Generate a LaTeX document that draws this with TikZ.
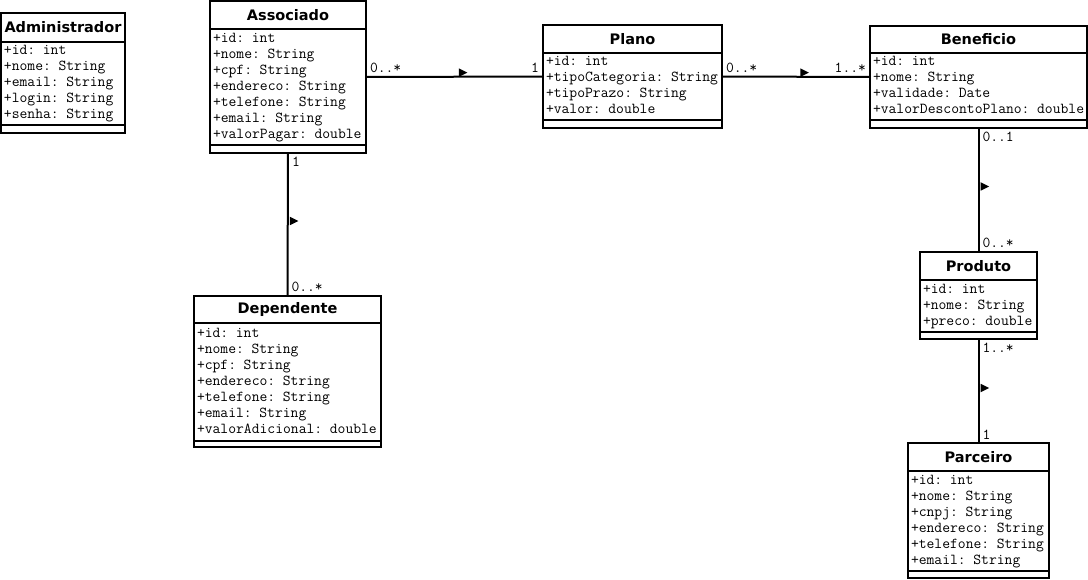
\documentclass[tikz,border=0pt]{standalone}
\usepackage{fontspec}
\setmainfont{DejaVu Sans}
\usetikzlibrary{positioning,fit,shapes.geometric}

\begin{document}
\begin{tikzpicture}[
    x=1pt, y=1pt,
    classhead/.style={draw=black, line width=2pt, outer sep=0pt, inner sep=0pt,
        minimum height=28pt, font=\bfseries\fontsize{14.5}{17}\selectfont},
    classattr/.style={draw=black, line width=2pt, outer sep=0pt, inner xsep=3pt,
        inner ysep=0pt, text width=#1, execute at begin node=\noindent,
        font=\ttfamily\fontsize{15.2}{16}\selectfont},
    classops/.style={draw=black, line width=2pt, outer sep=0pt, inner sep=0pt,
        minimum height=7pt},
    classbox/.style={inner sep=0pt, outer sep=0pt},
    edge/.style={line width=2pt, -},
    mult/.style={font=\ttfamily\fontsize{15.2}{16}\selectfont, inner sep=3pt},
    dirmark/.style={fill=black, isosceles triangle, isosceles triangle stretches,
        minimum width=8.5pt, minimum height=8.5pt, inner sep=0pt}
]
    \useasboundingbox (0,0) rectangle (1088,-580);

    % Administrador
    \node[classhead, minimum width=124pt, minimum height=29pt, anchor=north west] (admin) at (1,-13) {Administrador};
    \node[classattr=118pt, minimum height=83pt, below=0pt of admin] (adminAttr)
        {\begin{tabular}{@{}l@{}}+id: int\\+nome: String\\+email: String\\+login: String\\+senha: String\end{tabular}};
    \node[classops, minimum width=124pt, minimum height=8pt, below=0pt of adminAttr] (adminOps) {};

    % Associado
    \node[classhead, minimum width=156pt, anchor=north west] (assoc) at (210,-1) {Associado};
    \node[classattr=150pt, minimum height=116pt, below=0pt of assoc] (assocAttr)
        {\begin{tabular}{@{}l@{}}+id: int\\+nome: String\\+cpf: String\\+endereco: String\\+telefone: String\\+email: String\\+valorPagar: double\end{tabular}};
    \node[classops, minimum width=156pt, minimum height=8pt, below=0pt of assocAttr] (assocOps) {};
    \node[classbox, fit=(assoc)(assocOps)] (assocBox) {};

    % Plano
    \node[classhead, minimum width=179pt, anchor=north west] (plano) at (543,-25) {Plano};
    \node[classattr=173pt, minimum height=67pt, below=0pt of plano] (planoAttr)
        {\begin{tabular}{@{}l@{}}+id: int\\+tipoCategoria: String\\+tipoPrazo: String\\+valor: double\end{tabular}};
    \node[classops, minimum width=179pt, minimum height=8pt, below=0pt of planoAttr] (planoOps) {};
    \node[classbox, fit=(plano)(planoOps)] (planoBox) {};

    % Beneficio
    \node[classhead, minimum width=217pt, minimum height=27pt, anchor=north west] (benef) at (870,-26) {Beneficio};
    \node[classattr=211pt, minimum height=67pt, below=0pt of benef] (benefAttr)
        {\begin{tabular}{@{}l@{}}+id: int\\+nome: String\\+validade: Date\\+valorDescontoPlano: double\end{tabular}};
    \node[classops, minimum width=217pt, minimum height=8pt, below=0pt of benefAttr] (benefOps) {};
    \node[classbox, fit=(benef)(benefOps)] (benefBox) {};

    % Dependente
    \node[classhead, minimum width=187pt, minimum height=27pt, anchor=north west] (dep) at (194,-296) {Dependente};
    \node[classattr=181pt, minimum height=118pt, below=0pt of dep] (depAttr)
        {\begin{tabular}{@{}l@{}}+id: int\\+nome: String\\+cpf: String\\+endereco: String\\+telefone: String\\+email: String\\+valorAdicional: double\end{tabular}};
    \node[classops, minimum width=187pt, minimum height=6pt, below=0pt of depAttr] (depOps) {};
    \node[classbox, fit=(dep)(depOps)] (depBox) {};

    % Produto
    \node[classhead, minimum width=117pt, anchor=north west] (prod) at (920,-252) {Produto};
    \node[classattr=111pt, minimum height=52pt, below=0pt of prod] (prodAttr)
        {\begin{tabular}{@{}l@{}}+id: int\\+nome: String\\+preco: double\end{tabular}};
    \node[classops, minimum width=117pt, below=0pt of prodAttr] (prodOps) {};
    \node[classbox, fit=(prod)(prodOps)] (prodBox) {};

    % Parceiro
    \node[classhead, minimum width=141pt, anchor=north west] (parc) at (908,-443) {Parceiro};
    \node[classattr=135pt, minimum height=100pt, below=0pt of parc] (parcAttr)
        {\begin{tabular}{@{}l@{}}+id: int\\+nome: String\\+cnpj: String\\+endereco: String\\+telefone: String\\+email: String\end{tabular}};
    \node[classops, minimum width=141pt, below=0pt of parcAttr] (parcOps) {};
    \node[classbox, fit=(parc)(parcOps)] (parcBox) {};

    % associations
    \draw[edge] (assocBox.east) -- node[dirmark, midway, above=0pt, xshift=7pt] {}
        node[mult, at start, above right] {0..*} node[mult, at end, above left] {1} (planoBox.west);
    \draw[edge] (planoBox.east) -- node[dirmark, midway, above=0pt, xshift=7pt] {}
        node[mult, at start, above right] {0..*} node[mult, at end, above left] {1..*} (benefBox.west);
    \draw[edge] (assocBox.south) -- node[dirmark, midway, right=1pt, yshift=3.5pt] {}
        node[mult, at start, below right] {1} node[mult, at end, above right] {0..*} (depBox.north);
    \draw[edge] (benefBox.south) -- node[dirmark, midway, right=1pt, yshift=3.5pt] {}
        node[mult, at start, below right] {0..1} node[mult, at end, above right] {0..*} (prodBox.north);
    \draw[edge] (prodBox.south) -- node[dirmark, midway, right=1pt, yshift=3pt] {}
        node[mult, at start, below right] {1..*} node[mult, at end, above right] {1} (parcBox.north);
\end{tikzpicture}
\end{document}
